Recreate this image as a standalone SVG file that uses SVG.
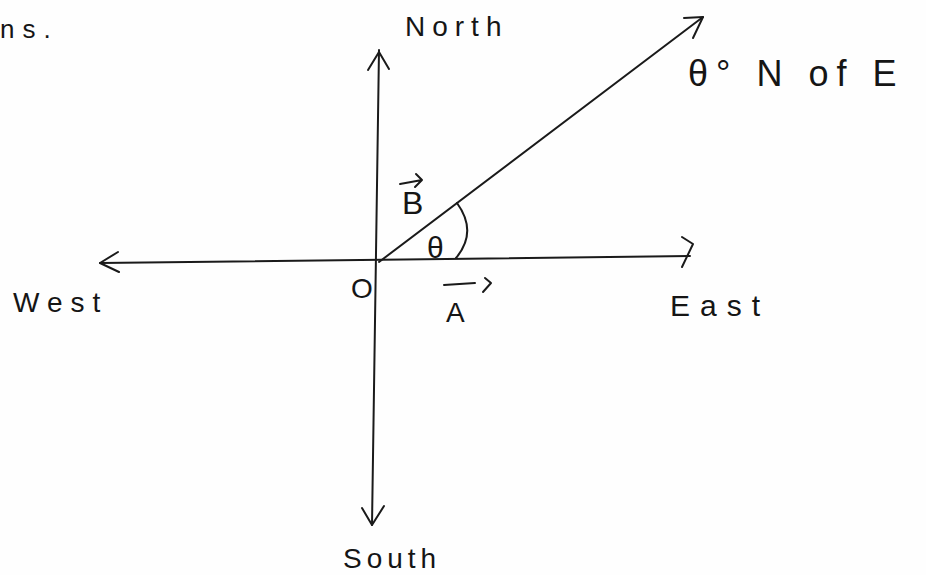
<svg xmlns="http://www.w3.org/2000/svg" width="926" height="575" viewBox="0 0 926 575">
<style>
.ln{stroke:#1a1a1a;stroke-width:2;fill:none;stroke-linecap:round;stroke-linejoin:round}
.t{font-family:"Liberation Sans","DejaVu Sans",sans-serif;fill:#151515}
</style>
<rect width="926" height="575" fill="#fefefe"/>
<g id="connectors">
<path class="ln" d="M379,50 L372,525"/>
<path class="ln" d="M368,70 L379,52 L389,69"/>
<path class="ln" d="M362,508 L372,525 L384,506"/>
<path class="ln" d="M100,263 L690,256"/>
<path class="ln" d="M118,252 L100,263 L119,272"/>
<path class="ln" d="M682,237 L693,244 L682,267"/>
<path class="ln" d="M379,262 L703,17"/>
<path class="ln" d="M684,18 L703,17 L693,38"/>
<path class="ln" d="M457,203 Q478,232 456,258"/>
</g>
<g id="labels">
<text class="t" x="0" y="38" font-size="26" letter-spacing="8">ns.</text>
<text id="north" class="t" x="405" y="36" font-size="28" letter-spacing="7">North</text>
<text id="angle-label" class="t" x="688" y="86" font-size="36" letter-spacing="8">θ° N of E</text>
<text class="t" x="402" y="214" font-size="32">B</text>
<path class="ln" d="M400,184 L422,180 M416,174 L422,180 L415,187" stroke-width="1.8"/>
<text class="t" x="427" y="258" font-size="30">θ</text>
<text class="t" x="351" y="298" font-size="28">O</text>
<text class="t" x="446" y="322" font-size="28">A</text>
<path class="ln" d="M444,285 L475,283 M485,278 L491,283 L483,292" stroke-width="1.8"/>
<text id="west" class="t" x="13" y="312" font-size="28" letter-spacing="8">West</text>
<text id="east" class="t" x="670" y="316" font-size="30" letter-spacing="10">East</text>
<text id="south" class="t" x="343" y="568" font-size="28" letter-spacing="5">South</text>
</g>
</svg>
